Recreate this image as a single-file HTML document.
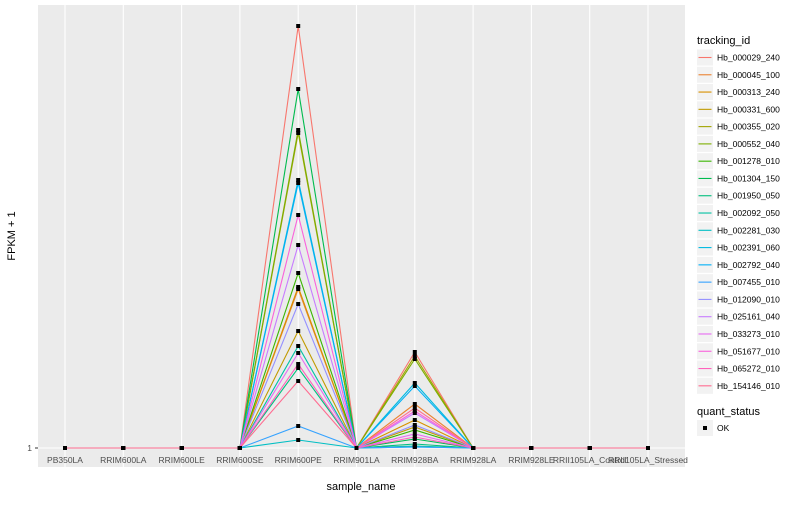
<!DOCTYPE html>
<html><head><meta charset="utf-8"><style>
body{margin:0;background:#fff;font-family:"Liberation Sans",sans-serif}
svg text{font-family:"Liberation Sans",sans-serif}
</style></head><body>
<svg id="c" width="800" height="500" xmlns="http://www.w3.org/2000/svg"></svg>
<script>
const categories=["PB350LA","RRIM600LA","RRIM600LE","RRIM600SE","RRIM600PE","RRIM901LA","RRIM928BA","RRIM928LA","RRIM928LE","RRII105LA_Control","RRII105LA_Stressed"];
const seriesNames=["Hb_000029_240","Hb_000045_100","Hb_000313_240","Hb_000331_600","Hb_000355_020","Hb_000552_040","Hb_001278_010","Hb_001304_150","Hb_001950_050","Hb_002092_050","Hb_002281_030","Hb_002391_060","Hb_002792_040","Hb_007455_010","Hb_012090_010","Hb_025161_040","Hb_033273_010","Hb_051677_010","Hb_065272_010","Hb_154146_010"];
const peak600PE=[106.5,40.75,41.25,30.25,79.75,80.5,44.75,90.75,21,26.5,3,68,67.25,6.5,37,51.75,24.75,59.25,22,17.75];
const peak928BA=[25,12,8,6.25,24,23.25,5.5,3.25,2,1.5,1.25,17.25,16.5,1.25,6.75,9.75,4.5,10.25,3.75,11];
const yTickValues=[1];
const yTickLabels=["1"];
const colors=["#F8766D","#EA8331","#D89000","#C09B00","#A3A500","#7CAE00","#39B600","#00BB4E","#00BF7D","#00C1A3","#00BFC4","#00BAE0","#00B0F6","#35A2FF","#9590FF","#C77CFF","#E76BF3","#FA62DB","#FF62BC","#FF6C91"];
const NS="http://www.w3.org/2000/svg";
const svg=document.getElementById('c');
const P={l:38,r:685,t:5,b:467};
function x(i){return 65+i*(648-65)/(categories.length-1);}
function y(v){return 448-(v-1)*4;}
function mk(t,a,parent){const e=document.createElementNS(NS,t);for(const k in a)e.setAttribute(k,a[k]);(parent||svg).appendChild(e);return e;}
let e=mk('rect',{x:P.l,y:P.t,width:P.r-P.l,height:P.b-P.t,fill:'#EBEBEB'});


categories.forEach((c,i)=>{
  let g=mk('line',{x1:x(i),x2:x(i),y1:P.t,y2:P.b,stroke:'#fff','stroke-width':1.1});
  
  
  let t=mk('text',{x:x(i),y:463,'font-size':8.5,'text-anchor':'middle',fill:'#4D4D4D'});t.textContent=c;
  
  
});
yTickValues.forEach((v,i)=>{
  let g=mk('line',{x1:P.l,x2:P.r,y1:y(v),y2:y(v),stroke:'#fff','stroke-width':1.1});
  
  
  mk('line',{x1:35,x2:38,y1:y(v),y2:y(v),stroke:'#333'});
  let t=mk('text',{x:32,y:y(v)+3,'font-size':8.5,'text-anchor':'end',fill:'#4D4D4D'});t.textContent=yTickLabels[i];
  
  
});
function vals(s){return categories.map((c,i)=>i===4?peak600PE[s]:i===6?peak928BA[s]:1);}
seriesNames.forEach((n,s)=>{
  const v=vals(s);
  let p=mk('polyline',{points:v.map((d,i)=>x(i)+','+y(d)).join(' '),fill:'none',stroke:colors[s],'stroke-width':1.1});
  
  
});
seriesNames.forEach((n,s)=>{
  vals(s).forEach((d,i)=>{
    let r=mk('rect',{x:x(i)-2,y:y(d)-2,width:4,height:4,fill:'#000'});
    
    
  });
});
let xt=mk('text',{x:361,y:490,'font-size':11,'text-anchor':'middle',fill:'#000'});xt.textContent='sample_name';


let yt=mk('text',{x:0,y:0,'font-size':11,'text-anchor':'middle',fill:'#000',transform:'translate(15,236) rotate(-90)'});yt.textContent='FPKM + 1';


let lt=mk('text',{x:697,y:44,'font-size':11,fill:'#000'});lt.textContent='tracking_id';


seriesNames.forEach((n,s)=>{
  const cy=57.5+s*17.28;
  let b=mk('rect',{x:697,y:cy-8,width:16,height:16,fill:'#F2F2F2'});
  
  
  mk('line',{x1:698.5,x2:711.5,y1:cy,y2:cy,stroke:colors[s],'stroke-width':1.1});
  let t=mk('text',{x:717,y:cy+3,'font-size':8.5,fill:'#000'});t.textContent=n;
  
  
});
let qt=mk('text',{x:697,y:415,'font-size':11,fill:'#000'});qt.textContent='quant_status';


let qb=mk('rect',{x:697,y:420,width:16,height:16,fill:'#F2F2F2'});


mk('rect',{x:703,y:426,width:4,height:4,fill:'#000'});
let qk=mk('text',{x:717,y:431,'font-size':8.5,fill:'#000'});qk.textContent='OK';


</script>
</body></html>
